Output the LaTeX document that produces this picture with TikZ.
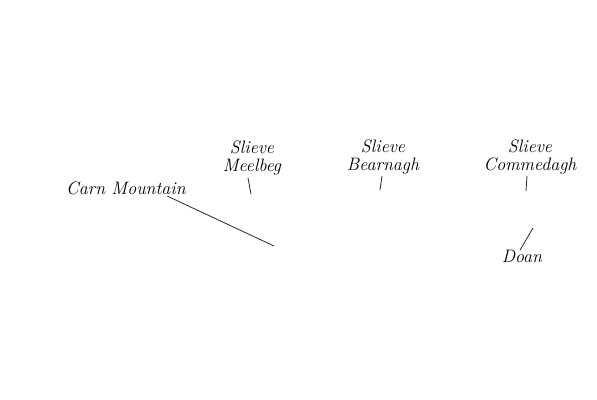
\documentclass[tikz,border=0pt]{standalone}
\usepackage{tikz}
\usetikzlibrary{positioning,calc}

\tikzset{
  peak/.style={font=\fontsize{13.5}{13}\selectfont\itshape, align=center, inner sep=1pt},
  lead/.style={line width=0.6pt, black!85}
}

\begin{document}
\begin{tikzpicture}[x=0.75pt,y=-0.75pt]
\useasboundingbox (0,0) rectangle (597,400);
\node[peak] (carn) at (126,188) {Carn Mountain};
\node[peak] (meelbeg) at (252,158) {Slieve\\Meelbeg};
\node[peak] (bearnagh) at (383,157) {Slieve\\Bearnagh};
\node[peak] (commedagh) at (530,157) {Slieve\\Commedagh};
\node[peak] (doan) at (522,256) {Doan};
% leader line ends
\coordinate (carnend) at (274,246);
\coordinate (meelbegtop) at (248,178);
\coordinate (meelbegend) at (251,194);
\coordinate (bearnaghtop) at (382,176);
\coordinate (bearnaghend) at (380,190);
\coordinate (commedaghtop) at (527,176);
\coordinate (commedaghend) at (526,191);
\coordinate (doanend) at (533,228);
\draw[lead] ($(carn.south east)+(-20,0)$) -- (carnend);
\draw[lead] (meelbegtop) -- (meelbegend);
\draw[lead] (bearnaghtop) -- (bearnaghend);
\draw[lead] (commedaghtop) -- (commedaghend);
\draw[lead] ($(doan.north)+(-2,2)$) -- (doanend);
\end{tikzpicture}
\end{document}
